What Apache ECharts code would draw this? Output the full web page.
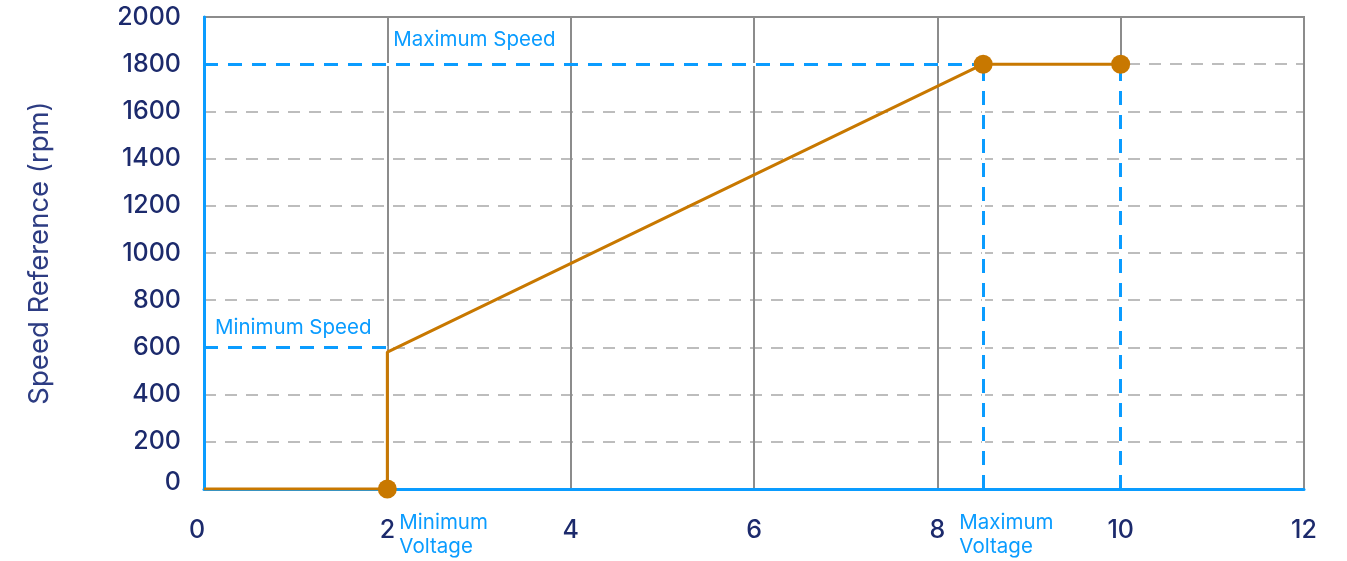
<!DOCTYPE html>
<html>
<head>
<meta charset="utf-8">
<script src="https://cdn.jsdelivr.net/npm/echarts@6/dist/echarts.min.js"></script>
<style>
  html, body { margin: 0; padding: 0; background: #fff; }
  #chart { width: 1347px; height: 561px; }
</style>
</head>
<body>
<div id="chart"></div>
<script>
// curve points (voltage V -> speed rpm)
const voltage = [0, 2, 2, 8.5, 10];
const speed = [0, 0, 580, 1800, 1800];
const markerIdx = [1, 3, 4]; // points that get a dot

// reference values
const minVoltage = 2;
const maxVoltage = 8.5;
const topVoltage = 10;
const minSpeed = 600;
const maxSpeed = 1800;

// axes
const xMin = 0, xMax = 12, xStep = 2;
const yMin = 0, yMax = 2000, yStep = 200;

const blue = '#0a9cff';
const navy = '#1c2a6c';
const orange = '#c87800';
const font = 'Inter';

const refLines = [
  [[0, minSpeed], [minVoltage, minSpeed]],
  [[0, maxSpeed], [maxVoltage, maxSpeed]],
  [[maxVoltage, 0], [maxVoltage, maxSpeed]],
  [[topVoltage, 0], [topVoltage, maxSpeed]]
];

function segs(style) {
  return refLines.map(function (l) {
    return [{ coord: l[0], lineStyle: style }, { coord: l[1] }];
  });
}

const tick = { color: navy, fontSize: 25, fontFamily: font, fontWeight: 500 };

const chart = echarts.init(document.getElementById('chart'));
chart.setOption({
  animation: false,
  grid: {
    left: 204, right: 43, top: 17, bottom: 72,
    show: true, borderColor: '#8c8c8c', borderWidth: 2,
    outerBoundsMode: 'none'
  },
  xAxis: {
    type: 'value', min: xMin, max: xMax, interval: xStep,
    axisLine: { lineStyle: { color: blue, width: 3 } },
    axisTick: { show: false },
    axisLabel: Object.assign({
      margin: 29,
      formatter: function (v) { return v === 0 ? '{a|0}' : String(v); },
      rich: { a: Object.assign({ padding: [0, 14, 0, 0] }, tick) }
    }, tick),
    splitLine: { show: true, lineStyle: { color: '#8c8c8c', width: 2, type: 'solid' } }
  },
  yAxis: {
    type: 'value', min: yMin, max: yMax, interval: yStep,
    name: 'Speed Reference (rpm)', nameLocation: 'middle', nameGap: 150,
    nameTextStyle: { color: '#2d3c82', fontSize: 27.5, fontFamily: font },
    axisLine: { show: true, lineStyle: { color: blue, width: 3 } },
    axisTick: { show: false },
    axisLabel: Object.assign({
      margin: 23,
      formatter: function (v) { return v === 0 ? '{a|0}' : String(v); },
      rich: { a: Object.assign({ padding: [0, 0, 14, 0] }, tick) }
    }, tick),
    splitLine: {
      show: true, showMaxLine: false,
      lineStyle: { color: '#bdbdbd', width: 2, type: [12, 9] }
    }
  },
  series: [
    {
      // white underlay so grid lines don't show through the dash gaps
      type: 'line', data: [], z: 3, silent: true,
      markLine: {
        symbol: 'none', silent: true, label: { show: false },
        data: segs({ color: '#fff', width: 3, type: 'solid' })
      }
    },
    {
      type: 'line', data: [], z: 4, silent: true,
      markLine: {
        symbol: 'none', silent: true, label: { show: false },
        data: segs({ color: blue, width: 3, type: [14, 10] })
      }
    },
    {
      type: 'line', z: 5,
      data: voltage.map(function (v, i) { return [v, speed[i]]; }),
      lineStyle: { color: orange, width: 3 },
      itemStyle: { color: orange },
      symbol: 'circle', showSymbol: true,
      symbolSize: function (val, p) { return markerIdx.indexOf(p.dataIndex) >= 0 ? 19 : 0; }
    }
  ]
});

// annotations placed relative to the data via the axes
function px(x, y) { return chart.convertToPixel({ gridIndex: 0 }, [x, y]); }
const txt = { fill: blue, fontSize: 20.5, fontFamily: font, lineHeight: 24 };
const pMaxS = px(minVoltage, maxSpeed);
const pMinS = px(0, minSpeed);
const pMinV = px(minVoltage, 0);
const pMaxV = px(8, 0);
chart.setOption({
  graphic: [
    { type: 'text', x: pMaxS[0] + 6, y: pMaxS[1] - 24, style: Object.assign({ text: 'Maximum Speed', verticalAlign: 'middle' }, txt) },
    { type: 'text', x: pMinS[0] + 11, y: pMinS[1] - 20, style: Object.assign({ text: 'Minimum Speed', verticalAlign: 'middle' }, txt) },
    { type: 'text', x: pMinV[0] + 12, y: pMinV[1] + 22, style: Object.assign({ text: 'Minimum\nVoltage', verticalAlign: 'top' }, txt) },
    { type: 'text', x: pMaxV[0] + 22, y: pMaxV[1] + 22, style: Object.assign({ text: 'Maximum\nVoltage', verticalAlign: 'top' }, txt) }
  ]
});
</script>
</body>
</html>
